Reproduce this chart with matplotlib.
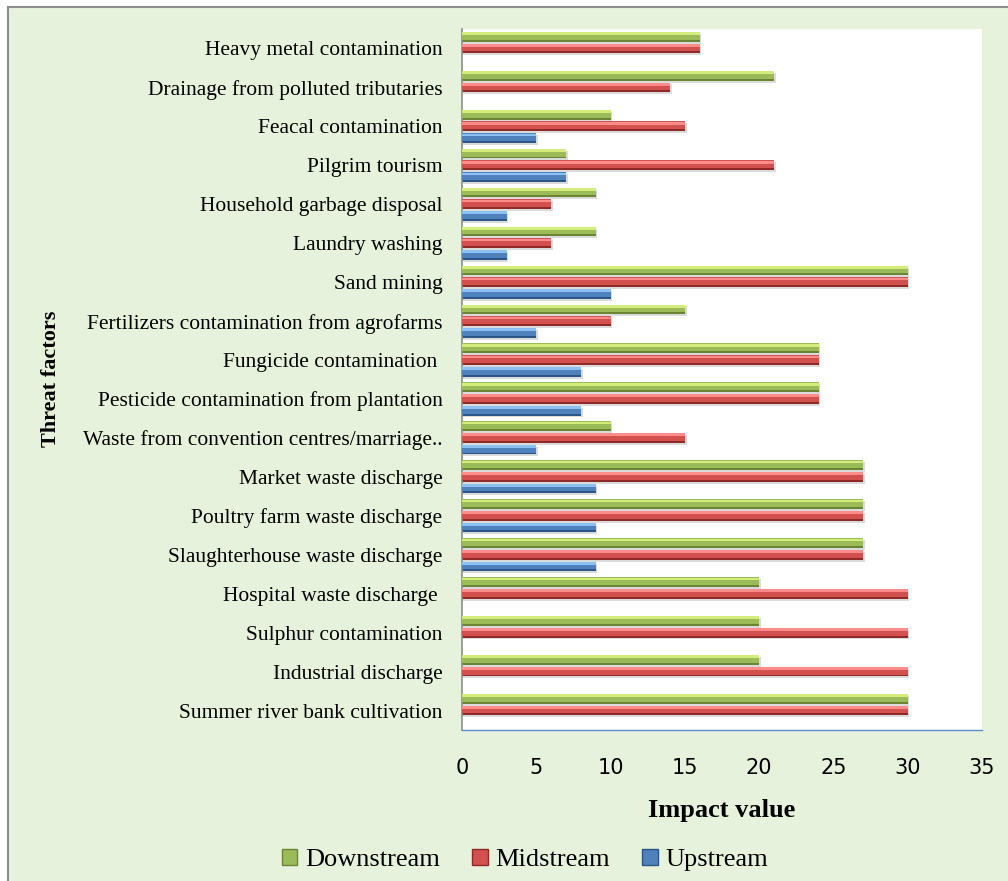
import numpy as np
import matplotlib.pyplot as plt
from matplotlib.patches import Rectangle, Patch

# Threat factors, listed top to bottom
factors = [
    "Heavy metal contamination",
    "Drainage from polluted tributaries",
    "Feacal contamination",
    "Pilgrim tourism",
    "Household garbage disposal",
    "Laundry washing",
    "Sand mining",
    "Fertilizers contamination from agrofarms",
    "Fungicide contamination ",
    "Pesticide contamination from plantation",
    "Waste from convention centres/marriage..",
    "Market waste discharge",
    "Poultry farm waste discharge",
    "Slaughterhouse waste discharge",
    "Hospital waste discharge ",
    "Sulphur contamination",
    "Industrial discharge",
    "Summer river bank cultivation",
]

downstream = [16, 21, 10, 7, 9, 9, 30, 15, 24, 24, 10, 27, 27, 27, 20, 20, 20, 30]
midstream = [16, 14, 15, 21, 6, 6, 30, 10, 24, 24, 15, 27, 27, 27, 30, 30, 30, 30]
upstream = [0, 0, 5, 7, 3, 3, 10, 5, 8, 8, 5, 9, 9, 9, 0, 0, 0, 0]

x_ticks = [0, 5, 10, 15, 20, 25, 30, 35]

# name, values, (light, base, dark) colours, offset inside the group
series = [
    ("Downstream", downstream, ("#d4ec7c", "#9bbb59", "#6a8433"), -0.30),
    ("Midstream", midstream, ("#ff8c8a", "#d2504d", "#8e2a28"), 0.0),
    ("Upstream", upstream, ("#8cc0f2", "#4f81bd", "#2b5487"), 0.30),
]

bg = "#e7f2dc"
serif = "Liberation Serif"

fig = plt.figure(figsize=(10.08, 8.81), dpi=100)
fig.patch.set_facecolor("white")

# light green panel with grey frame
fig.patches.append(Rectangle((8 / 1008, -0.01), 1.02, 1 - 7 / 881 + 0.01,
                             transform=fig.transFigure, facecolor=bg,
                             edgecolor="#8c8c8c", linewidth=1.5, zorder=-10))

ax = fig.add_axes([462 / 1008, 1 - 730 / 881, 520 / 1008, 701 / 881])
ax.set_facecolor("white")

y = np.arange(len(factors))
h = 0.25

for name, vals, (light, base, dark), off in series:
    vals = np.array(vals, dtype=float)
    keep = vals > 0
    pos = y[keep] + off
    v = vals[keep]
    # soft drop shadow
    ax.barh(pos + 0.05, v + 0.12, height=h, color="#9a9a9a", alpha=0.35,
            linewidth=0, zorder=1)
    # bevelled bar: dark lower edge, base body, light upper edge
    ax.barh(pos, v, height=h, color=dark, linewidth=0, zorder=2)
    ax.barh(pos - h * 0.1, v, height=h * 0.8, color=base, linewidth=0, zorder=3)
    ax.barh(pos - h * 0.32, v, height=h * 0.28, color=light, linewidth=0, zorder=4)

ax.set_xlim(0, 35)
ax.set_ylim(len(factors) - 0.5, -0.5)
ax.set_xticks(x_ticks)
ax.set_xticklabels([str(t) for t in x_ticks], fontsize=15, family="DejaVu Sans")
ax.set_yticks(y)
ax.set_yticklabels(factors, fontsize=15.5, family=serif)
ax.tick_params(axis="x", length=0, pad=20)
ax.tick_params(axis="y", length=0, pad=14)

for s in ["top", "right"]:
    ax.spines[s].set_visible(False)
ax.spines["left"].set_color("#8c8c8c")
ax.spines["left"].set_linewidth(1.2)
ax.spines["bottom"].set_color("#5b8fd0")
ax.spines["bottom"].set_linewidth(1.0)

ax.set_xlabel("Impact value", fontsize=19, family=serif, fontweight="bold", labelpad=15)
fig.text(51 / 1008, 1 - 379 / 881, "Threat factors", rotation=90, ha="center",
         va="center", fontsize=16, family=serif, fontweight="bold")

handles = [Patch(facecolor=c[1], edgecolor=c[2], label=n) for n, _, c, _ in series]
fig.legend(handles=handles, loc="center", bbox_to_anchor=(525 / 1008, 1 - 860 / 881),
           ncol=3, frameon=False, prop={"family": serif, "size": 19},
           handlelength=0.6, handleheight=0.6, handletextpad=0.3, columnspacing=1.2)

fig.savefig("out.png", dpi=100, facecolor=fig.get_facecolor())
